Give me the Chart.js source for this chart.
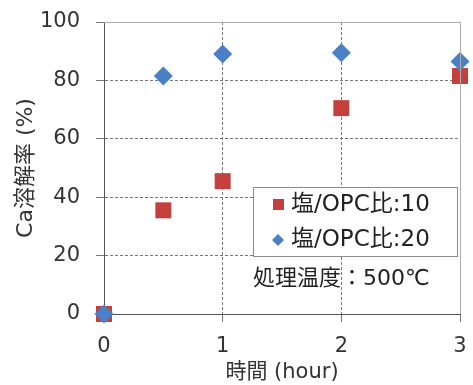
<!DOCTYPE html>
<html>
<head>
<meta charset="utf-8">
<script src="https://cdn.jsdelivr.net/npm/chart.js@4"></script>
<style>
  html, body { margin: 0; padding: 0; background: #fff; }
  #wrap { width: 473px; height: 385px; position: relative; }
</style>
</head>
<body>
<div id="wrap"><canvas id="caChart"></canvas></div>
<script>
// data
const hours = [0, 0.5, 1, 2, 3];
const ratio10 = [0, 35.5, 45.5, 70.5, 81.5];
const ratio20 = [0, 81.5, 89, 89.5, 86.5];
const seriesNames = ["塩/OPC比:10", "塩/OPC比:20"];
const yTicks = [0, 20, 40, 60, 80, 100];
const xTicks = [0, 1, 2, 3];
const noteText = "処理温度：500℃";

const FONT = "'DejaVu Sans', 'Noto Sans CJK JP', sans-serif";
const RED = "#c3403c";
const BLUE = "#4a80c6";

function toPoints(xs, ys) {
  return xs.map((x, i) => ({ x: x, y: ys[i] }));
}

// frame, legend box and note
const extras = {
  id: "extras",
  afterDraw(chart) {
    const ctx = chart.ctx;
    const a = chart.chartArea;
    ctx.save();
    ctx.strokeStyle = "#adadad";
    ctx.lineWidth = 1;
    ctx.beginPath();
    ctx.moveTo(a.left, a.top + 0.5);
    ctx.lineTo(a.right + 0.5, a.top + 0.5);
    ctx.lineTo(a.right + 0.5, a.bottom);
    ctx.stroke();

    // legend box
    const bx = 253, by = 187, bw = 204, bh = 69;
    ctx.fillStyle = "#fff";
    ctx.fillRect(bx, by, bw, bh);
    ctx.strokeStyle = "#8a8a8a";
    ctx.strokeRect(bx + 0.5, by + 0.5, bw, bh);

    ctx.font = "23px " + FONT;
    ctx.textBaseline = "middle";
    ctx.textAlign = "left";
    // red square
    ctx.fillStyle = RED;
    ctx.fillRect(273, 199, 11, 11);
    ctx.fillStyle = "#222";
    ctx.fillText(seriesNames[0], 291, 205);
    // blue diamond
    ctx.fillStyle = BLUE;
    ctx.beginPath();
    ctx.moveTo(278, 234); ctx.lineTo(284, 240); ctx.lineTo(278, 246); ctx.lineTo(272, 240);
    ctx.closePath();
    ctx.fill();
    ctx.fillStyle = "#222";
    ctx.fillText(seriesNames[1], 291, 240);

    ctx.font = "22px " + FONT;
    ctx.fillText(noteText, 253, 279);
    ctx.restore();
  }
};

new Chart(document.getElementById("caChart"), {
  type: "scatter",
  data: {
    datasets: [
      {
        label: seriesNames[0],
        data: toPoints(hours, ratio10),
        pointStyle: "rect",
        pointRadius: 11.3,
        backgroundColor: RED,
        borderWidth: 0,
        clip: false,
        order: 1
      },
      {
        label: seriesNames[1],
        data: toPoints(hours, ratio20),
        pointStyle: "rectRot",
        pointRadius: 9.5,
        backgroundColor: BLUE,
        borderWidth: 0,
        clip: false,
        order: 0
      }
    ]
  },
  options: {
    responsive: true,
    maintainAspectRatio: false,
    animation: false,
    layout: { padding: { top: 22, right: 13, left: 0, bottom: 0 } },
    plugins: { legend: { display: false }, tooltip: { enabled: false } },
    scales: {
      x: {
        type: "linear",
        min: 0,
        max: 3,
        afterBuildTicks: s => { s.ticks = xTicks.map(v => ({ value: v })); },
        afterFit: s => { s.height = 71; s.paddingLeft = 0; s.paddingRight = 0; },
        ticks: { color: "#333", font: { family: FONT, size: 21 }, padding: 12 },
        grid: {
          color: c => (c.tick && (c.tick.value === 0)) ? "rgba(0,0,0,0)" : "#777",
          tickColor: "#777",
          tickLength: 8
        },
        border: { display: true, color: "#555", width: 1, dash: [3, 2] },
        title: {
          display: true,
          text: "時間 (hour)",
          color: "#333",
          font: { family: FONT, size: 21 },
          padding: { top: 0, bottom: 0 }
        }
      },
      y: {
        min: 0,
        max: 100,
        afterBuildTicks: s => { s.ticks = yTicks.map(v => ({ value: v })); },
        afterFit: s => { s.width = 104; s.paddingTop = 0; s.paddingBottom = 0; },
        ticks: { color: "#333", font: { family: FONT, size: 21 }, padding: 16 },
        grid: {
          color: c => (c.tick && (c.tick.value === 0 || c.tick.value === 100)) ? "rgba(0,0,0,0)" : "#777",
          tickColor: "#777",
          tickLength: 8
        },
        border: { display: true, color: "#555", width: 1, dash: [3, 2] },
        title: {
          display: true,
          text: "Ca溶解率 (%)",
          color: "#333",
          font: { family: FONT, size: 22 },
          padding: { top: 13, bottom: 0 }
        }
      }
    }
  },
  plugins: [extras]
});
</script>
</body>
</html>
